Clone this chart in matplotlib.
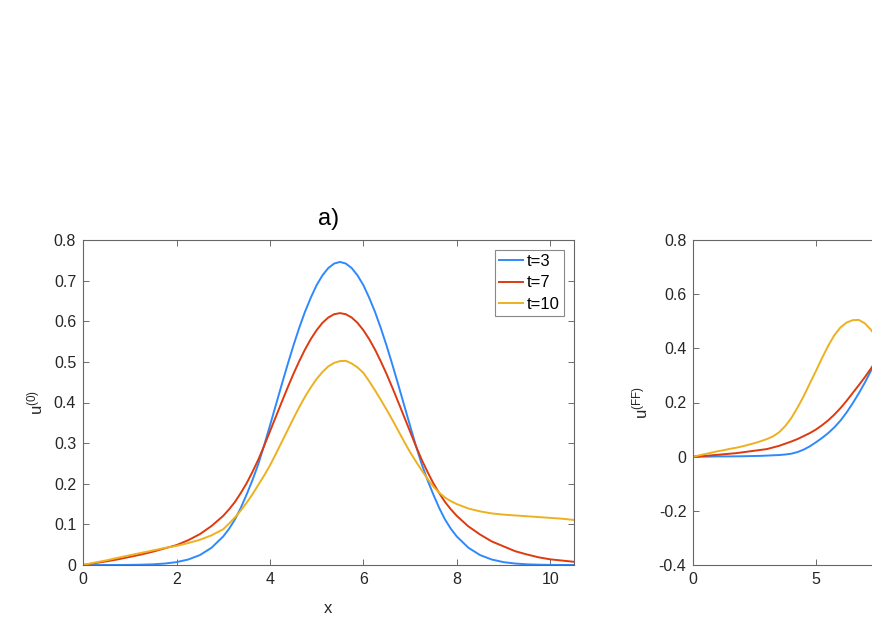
import matplotlib
matplotlib.use('Agg')
import matplotlib.pyplot as plt
import numpy as np
from matplotlib.ticker import FuncFormatter

plt.rcParams['font.family'] = ['Liberation Sans', 'DejaVu Sans']
plt.rcParams['mathtext.default'] = 'regular'
plt.rcParams['axes.unicode_minus'] = False

# ---------------- data ----------------
x_left = [0.0, 0.25, 0.5, 0.75, 1.0, 1.25, 1.5, 1.75, 2.0, 2.25, 2.5, 2.75,
          3.0, 3.125, 3.25, 3.375, 3.5, 3.625, 3.75, 3.875, 4.0, 4.125, 4.25,
          4.375, 4.5, 4.625, 4.75, 4.875, 5.0, 5.125, 5.25, 5.375, 5.5, 5.625,
          5.75, 5.875, 6.0, 6.125, 6.25, 6.375, 6.5, 6.625, 6.75, 6.875, 7.0,
          7.125, 7.25, 7.375, 7.5, 7.625, 7.75, 7.875, 8.0,
          8.25, 8.5, 8.75, 9.0, 9.25, 9.5, 9.75, 10.0, 10.25, 10.5]

u0_t3 = [0.0, 0.0, 0.0, 0.0001, 0.0003, 0.0008, 0.0017, 0.0036, 0.0071, 0.0135,
         0.0244, 0.0425,
         0.0703, 0.0890, 0.1118, 0.1403, 0.1732, 0.2086, 0.248, 0.294, 0.343,
         0.393, 0.443, 0.492, 0.539, 0.583, 0.623, 0.658, 0.689, 0.713, 0.731,
         0.742, 0.746, 0.742, 0.731, 0.713, 0.689, 0.658, 0.623, 0.583, 0.539,
         0.492, 0.443, 0.393, 0.343, 0.294, 0.248, 0.2086, 0.1732, 0.1403,
         0.1118, 0.0890, 0.0703,
         0.0425, 0.0244, 0.0135, 0.0071, 0.0036, 0.0017, 0.0008, 0.0003, 0.0001,
         0.0]
u0_t7 = [0.0, 0.0045, 0.009, 0.014, 0.020, 0.026, 0.033, 0.041, 0.049, 0.061,
         0.076, 0.096,
         0.121, 0.137, 0.155, 0.177, 0.201, 0.229, 0.259, 0.2929, 0.3287,
         0.3645, 0.4003, 0.4356, 0.4695, 0.5010, 0.5303, 0.5560, 0.5781, 0.5961,
         0.6092, 0.6173, 0.620, 0.6173, 0.6092, 0.5961, 0.5781, 0.5560, 0.5303,
         0.5010, 0.4695, 0.4356, 0.4003, 0.3645, 0.3287, 0.2929, 0.259, 0.229,
         0.201, 0.177, 0.155, 0.137, 0.121,
         0.095, 0.075, 0.058, 0.046, 0.034, 0.026, 0.019, 0.014, 0.011, 0.008]
u0_t10 = [0.0, 0.006, 0.0115, 0.018, 0.024, 0.030, 0.036, 0.042, 0.047, 0.054,
          0.062, 0.073,
          0.088, 0.102, 0.117, 0.134, 0.153, 0.174, 0.197, 0.220, 0.245, 0.273,
          0.302, 0.331, 0.360, 0.388, 0.414, 0.437, 0.458, 0.475, 0.489, 0.4975,
          0.502, 0.5025, 0.496, 0.4865, 0.473, 0.4525, 0.430, 0.4065, 0.382,
          0.3565, 0.330, 0.3035, 0.278, 0.255, 0.233, 0.212, 0.193, 0.178,
          0.166, 0.157, 0.150,
          0.139, 0.132, 0.127, 0.124, 0.122, 0.120, 0.118, 0.116, 0.114, 0.111]

x_right = np.arange(0, 7.5001, 0.25)
uff_t3 = [0.0, 0.0, 0.0, 0.0005, 0.001, 0.001, 0.001, 0.0012, 0.0015, 0.002,
          0.0025, 0.003, 0.004, 0.005, 0.006, 0.008, 0.011, 0.017, 0.026, 0.038,
          0.053, 0.069, 0.087, 0.108, 0.133, 0.163, 0.197, 0.234, 0.274, 0.318,
          0.365]
uff_t7 = [0.0, 0.0015, 0.003, 0.005, 0.007, 0.009, 0.011, 0.013, 0.016, 0.019,
          0.022, 0.025, 0.028, 0.034, 0.040, 0.048, 0.056, 0.065, 0.076, 0.087,
          0.100, 0.116, 0.134, 0.155, 0.179, 0.206, 0.235, 0.264, 0.294, 0.326,
          0.360]
uff_t10 = [0.0, 0.005, 0.010, 0.015, 0.020, 0.024, 0.029, 0.033, 0.038, 0.044,
           0.050, 0.057, 0.065, 0.075, 0.090, 0.113, 0.143, 0.181, 0.223, 0.270,
           0.316, 0.364, 0.409, 0.448, 0.477, 0.495, 0.504, 0.505, 0.492, 0.468,
           0.435]

labels = ['t=3', 't=7', 't=10']
colors = ['#2F89FC', '#DD3A10', '#EDB120']

left_xticks = [0, 2, 4, 6, 8, 10]
left_yticks = [0, 0.1, 0.2, 0.3, 0.4, 0.5, 0.6, 0.7, 0.8]
right_xticks = [0, 5, 10, 15, 20]
right_xticklabels = ['0', '5', '', '', '']   # the others fall outside the picture
right_yticks = [-0.4, -0.2, 0, 0.2, 0.4, 0.6, 0.8]

# ---------------- figure ----------------
W, H = 872, 617
fig = plt.figure(figsize=(W / 100, H / 100), dpi=100)
ax1 = fig.add_axes([83.1 / W, 52 / H, 490.4 / W, 325 / H])
ax2 = fig.add_axes([693.3 / W, 52 / H, 490.4 / W, 325 / H])

fmt = FuncFormatter(lambda v, p: '%g' % round(v, 6))

lw = 1.4
for ys, lab, c in zip([u0_t3, u0_t7, u0_t10], labels, colors):
    ax1.plot(x_left, ys, color=c, lw=lw, label=lab)
for ys, c in zip([uff_t3, uff_t7, uff_t10], colors):
    ax2.plot(x_right, ys, color=c, lw=lw)

ax1.set_xlim(0, 10.5)
ax1.set_ylim(0, 0.8)
ax1.set_xticks(left_xticks)
ax1.set_yticks(left_yticks)
ax1.xaxis.set_major_formatter(fmt)
ax2.set_xlim(0, 20)
ax2.set_ylim(-0.4, 0.8)
ax2.set_xticks(right_xticks)
ax2.set_xticklabels(right_xticklabels)
ax2.set_yticks(right_yticks)

for ax in (ax1, ax2):
    ax.yaxis.set_major_formatter(fmt)
    ax.tick_params(direction='in', length=4, width=0.6, color='#555555',
                   labelcolor='#262626', labelsize=11.5, top=True, right=True, pad=5)
    for s in ax.spines.values():
        s.set_color('#666666')
        s.set_linewidth(0.8)

ax1.set_xlabel('x', fontsize=12, color='#262626', labelpad=10)
ax1.set_ylabel('u$^{(0)}$', fontsize=12, color='#262626', labelpad=6)
ax2.set_ylabel('u$^{(FF)}$', fontsize=12, color='#262626', labelpad=6)
ax1.set_title('a)', fontsize=17, color='#000000', pad=11)

leg = ax1.legend(loc='upper right', fontsize=12, frameon=True, fancybox=False,
                 edgecolor='#888888', framealpha=1, handlelength=1.45,
                 handletextpad=0.2, labelspacing=0.37, borderpad=0.25,
                 borderaxespad=0.6)
leg.get_frame().set_linewidth(0.8)

fig.savefig('out.png', dpi=100)
